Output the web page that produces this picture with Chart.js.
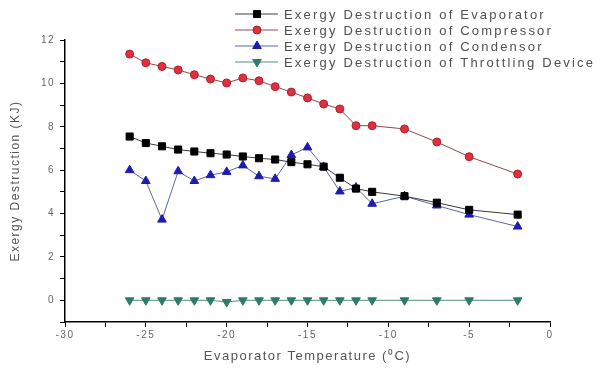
<!DOCTYPE html>
<html>
<head>
<meta charset="utf-8">
<script src="https://cdn.jsdelivr.net/npm/chart.js@4/dist/chart.umd.min.js"></script>
<style>
  html, body { margin: 0; padding: 0; background: #fff; }
  #wrap { width: 598px; height: 368px; }
</style>
</head>
<body>
<div id="wrap"><canvas id="myChart" width="598" height="368"></canvas></div>
<script>
// evaporator temperature (°C)
var temps = [-26, -25, -24, -23, -22, -21, -20, -19, -18, -17, -16, -15, -14, -13, -12, -11, -9, -7, -5, -2];
// exergy destruction (KJ)
var evaporator = [7.55, 7.25, 7.1, 6.95, 6.86, 6.78, 6.72, 6.63, 6.55, 6.49, 6.37, 6.27, 6.16, 5.65, 5.15, 5.0, 4.8, 4.5, 4.17, 3.95];
var compressor = [11.35, 10.95, 10.78, 10.62, 10.4, 10.2, 10.02, 10.25, 10.12, 9.85, 9.6, 9.33, 9.05, 8.82, 8.05, 8.05, 7.9, 7.3, 6.62, 5.82];
var condensor = [6.0, 5.5, 3.72, 5.95, 5.5, 5.77, 5.92, 6.22, 5.72, 5.6, 6.7, 7.05, 6.15, 5.02, 5.2, 4.45, 4.8, 4.37, 3.95, 3.4];
var throttling = [0, 0, 0, 0, 0, 0, -0.08, 0, 0, 0, 0, 0, 0, 0, 0, 0, 0, 0, 0, 0];

var seriesNames = [
    'Exergy Destruction of Evaporator',
    'Exergy Destruction of Compressor',
    'Exergy Destruction of Condensor',
    'Exergy Destruction of Throttling Device'
];

function toPoints(values) {
    return values.map((v, i) => { return { x: temps[i], y: v }; });
}

var FONT = "'Liberation Sans', Arial, sans-serif";

// legend drawn as line + marker, like the original plot
var lineLegend = {
    id: 'lineLegend',
    afterDraw(chart) {
        var ctx = chart.ctx;
        ctx.save();
        ctx.letterSpacing = '2.2px';
        ctx.font = '13px ' + FONT;
        ctx.textBaseline = 'middle';
        chart.data.datasets.forEach((ds, i) => {
            var y = 14 + i * 16;
            ctx.strokeStyle = ds.borderColor;
            ctx.lineWidth = 1;
            ctx.beginPath();
            ctx.moveTo(235, y);
            ctx.lineTo(278, y);
            ctx.stroke();
            ctx.fillStyle = ds.pointBackgroundColor;
            ctx.strokeStyle = ds.pointBorderColor;
            Chart.helpers.drawPoint(ctx, {
                pointStyle: ds.pointStyle,
                radius: ds.pointRadius,
                rotation: ds.pointRotation || 0,
                borderWidth: 1
            }, 257, y);
            ctx.fillStyle = '#505050';
            ctx.fillText(ds.label, 284, y + 1);
        });
        ctx.restore();
    }
};

// spaced-out lettering for axes, plain for marks
var spacing = {
    id: 'spacing',
    beforeDraw(chart) { chart.ctx.letterSpacing = '1.5px'; },
    beforeDatasetsDraw(chart) { chart.ctx.letterSpacing = '0px'; }
};

var ctx = document.getElementById('myChart').getContext('2d');
var myChart = new Chart(ctx, {
    type: 'line',
    data: {
        datasets: [{
            label: seriesNames[0],
            data: toPoints(evaporator),
            borderColor: '#3a3a3a',
            borderWidth: 1,
            pointStyle: 'rect',
            pointRadius: 5,
            pointBackgroundColor: '#000000',
            pointBorderColor: '#000000'
        }, {
            label: seriesNames[1],
            data: toPoints(compressor),
            borderColor: '#8a4a4e',
            borderWidth: 1,
            pointStyle: 'circle',
            pointRadius: 4,
            pointBackgroundColor: '#e0303e',
            pointBorderColor: '#b0202c'
        }, {
            label: seriesNames[2],
            data: toPoints(condensor),
            borderColor: '#5a66a8',
            borderWidth: 1,
            pointStyle: 'triangle',
            pointRadius: 5,
            pointBackgroundColor: '#1c1cb0',
            pointBorderColor: '#1c1cb0'
        }, {
            label: seriesNames[3],
            data: toPoints(throttling),
            borderColor: '#5a8a80',
            borderWidth: 1,
            pointStyle: 'triangle',
            pointRotation: 180,
            pointRadius: 5,
            pointBackgroundColor: '#2e7a6c',
            pointBorderColor: '#2e7a6c'
        }]
    },
    options: {
        responsive: false,
        animation: false,
        layout: { padding: { left: 0, right: 48, top: 40, bottom: 0 } },
        plugins: {
            legend: { display: false },
            tooltip: { enabled: false }
        },
        scales: {
            x: {
                type: 'linear',
                min: -30,
                max: 0,
                afterFit: (scale) => { scale.height = 46; },
                border: { color: '#000', width: 1.5 },
                grid: { drawOnChartArea: false, tickLength: 5, color: '#000' },
                ticks: {
                    stepSize: 2.5,
                    padding: 2,
                    color: '#666',
                    font: { family: FONT, size: 10 },
                    maxRotation: 0,
                    callback: (v) => { return v % 5 === 0 ? v : ''; }
                },
                title: {
                    display: true,
                    text: 'Evaporator Temperature (\u2070C)',
                    color: '#555',
                    font: { family: FONT, size: 13 },
                    padding: { top: 0, bottom: 4 }
                }
            },
            y: {
                min: -1,
                max: 12,
                afterFit: (scale) => { scale.width = 65; },
                border: { color: '#000', width: 1.5 },
                grid: { drawOnChartArea: false, tickLength: 5, color: '#000' },
                ticks: {
                    stepSize: 1,
                    padding: 5,
                    color: '#666',
                    font: { family: FONT, size: 10 },
                    callback: (v) => { return (v % 2 === 0) ? v : ''; }
                },
                title: {
                    display: true,
                    text: 'Exergy Destruction (KJ)',
                    color: '#555',
                    font: { family: FONT, size: 12 },
                    padding: { top: 8, bottom: 0 }
                }
            }
        }
    },
    plugins: [spacing, lineLegend]
});
</script>
</body>
</html>
